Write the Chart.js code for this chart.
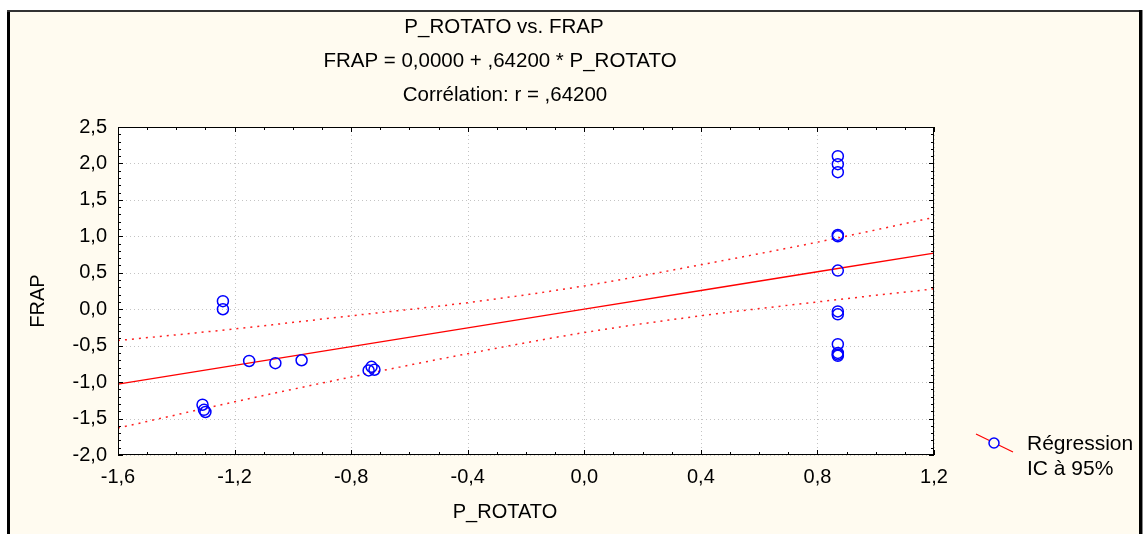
<!DOCTYPE html>
<html>
<head>
<meta charset="utf-8">
<script src="https://cdn.jsdelivr.net/npm/chart.js@4.4.0/dist/chart.umd.min.js"></script>
<style>
  html, body { margin: 0; padding: 0; background: #fff; }
  canvas { display: block; }
</style>
</head>
<body>
<canvas id="graficoNuage" width="1144" height="534"></canvas>
<script>
// ==============================
// DONNEES
// ==============================

// Observations (nuage de points)
const pRotato = [0.87, 0.87, 0.87, 0.87, 0.87, 0.87, 0.87, 0.87, 0.87, 0.87, 0.87, 0.87,
  -1.24, -1.24, -1.15, -1.06, -0.97, -0.74, -0.73, -0.72, -1.31, -1.305, -1.30];
const frap = [2.10, 1.99, 1.88, 1.02, 1.00, 0.53, -0.03, -0.07, -0.48, -0.60, -0.62, -0.64,
  0.11, 0.00, -0.71, -0.74, -0.70, -0.84, -0.79, -0.83, -1.31, -1.38, -1.41];

// Droite de régression et intervalle de confiance à 95%
const bandeX = [-1.6, -1.2, -0.8, -0.4, 0.0, 0.4, 0.8, 1.2];
const regression = [-1.027, -0.770, -0.514, -0.257, 0.0, 0.257, 0.514, 0.770];
const icHaut = [-0.43, -0.27, -0.09, 0.09, 0.32, 0.61, 0.92, 1.26];
const icBas = [-1.63, -1.27, -0.93, -0.61, -0.32, -0.09, 0.10, 0.28];

// Graduations
const xTicks = [-1.6, -1.2, -0.8, -0.4, 0.0, 0.4, 0.8, 1.2];
const xTickLabels = ["-1,6", "-1,2", "-0,8", "-0,4", "0,0", "0,4", "0,8", "1,2"];
const yTicks = [-2.0, -1.5, -1.0, -0.5, 0.0, 0.5, 1.0, 1.5, 2.0, 2.5];
const yTickLabels = ["-2,0", "-1,5", "-1,0", "-0,5", "0,0", "0,5", "1,0", "1,5", "2,0", "2,5"];

// Textes
const titres = ["P_ROTATO vs. FRAP", "FRAP = 0,0000 + ,64200 * P_ROTATO", "Corrélation: r = ,64200"];
const legende = ["Régression", "IC à 95%"];

const police = "'Liberation Sans', Arial, sans-serif";

// ==============================
// PLUGINS DE DESSIN
// ==============================

// Fond crème, cadre extérieur, zone de tracé blanche et grille pointillée
const fond = {
  id: "fond",
  beforeDraw(chart) {
    const { ctx, chartArea: a, scales } = chart;
    ctx.save();
    ctx.fillStyle = "#ffffff";
    ctx.fillRect(0, 0, chart.width, chart.height);
    ctx.fillStyle = "#fffbf0";
    ctx.fillRect(10, 11, 1130, chart.height - 11);
    // cadre
    ctx.fillStyle = "#000000";
    ctx.fillRect(7, 10, 3, chart.height - 10);
    ctx.fillStyle = "#333333";
    ctx.fillRect(7, 10, 1135, 2);
    ctx.fillStyle = "#000000";
    ctx.fillRect(1139, 10, 3, chart.height - 10);
    ctx.fillStyle = "#888888";
    ctx.fillRect(1142, 10, 1, chart.height - 10);
    // zone de tracé
    ctx.fillStyle = "#ffffff";
    ctx.fillRect(a.left, a.top, a.right - a.left, a.bottom - a.top);
    // grille
    ctx.strokeStyle = "#c4c4c4";
    ctx.lineWidth = 1;
    ctx.setLineDash([1, 3]);
    ctx.beginPath();
    xTicks.forEach(v => {
      const px = Math.round(scales.x.getPixelForValue(v)) + 0.5;
      ctx.moveTo(px, a.top);
      ctx.lineTo(px, a.bottom);
    });
    yTicks.forEach(v => {
      const py = Math.round(scales.y.getPixelForValue(v)) + 0.5;
      ctx.moveTo(a.left, py);
      ctx.lineTo(a.right, py);
    });
    ctx.stroke();
    ctx.restore();
  }
};

// Bordure de la zone de tracé et petites graduations vers l'intérieur
const marco = {
  id: "marco",
  afterDraw(chart) {
    const { ctx, chartArea: a, scales } = chart;
    ctx.save();
    ctx.strokeStyle = "#000000";
    ctx.lineWidth = 1;
    ctx.strokeRect(a.left + 0.5, a.top + 0.5, a.right - a.left - 1, a.bottom - a.top - 1);
    ctx.beginPath();
    for (let i = -16; i <= 12; i++) {
      const px = Math.round(scales.x.getPixelForValue(i / 10)) + 0.5;
      const l = i % 4 === 0 ? 5 : 3;
      ctx.moveTo(px, a.bottom); ctx.lineTo(px, a.bottom - l);
      ctx.moveTo(px, a.top); ctx.lineTo(px, a.top + l);
    }
    for (let i = -20; i <= 25; i++) {
      const py = Math.round(scales.y.getPixelForValue(i / 10)) + 0.5;
      const l = i % 5 === 0 ? 5 : 3;
      ctx.moveTo(a.left, py); ctx.lineTo(a.left + l, py);
      ctx.moveTo(a.right, py); ctx.lineTo(a.right - l, py);
    }
    ctx.stroke();
    ctx.restore();
  }
};

// Titres, titres des axes et légende
const textos = {
  id: "textos",
  afterDraw(chart) {
    const { ctx } = chart;
    ctx.save();
    ctx.fillStyle = "#000000";
    ctx.textBaseline = "middle";
    ctx.textAlign = "center";
    ctx.font = "20.5px " + police;
    ctx.fillText(titres[0], 504, 27);
    ctx.fillText(titres[1], 500, 61);
    ctx.fillText(titres[2], 505, 95);
    // titres des axes
    ctx.font = "20px " + police;
    ctx.fillText("P_ROTATO", 505, 512);
    ctx.save();
    ctx.translate(38, 301);
    ctx.rotate(-Math.PI / 2);
    ctx.fillText("FRAP", 0, 0);
    ctx.restore();
    // légende
    ctx.strokeStyle = "#ff0000";
    ctx.lineWidth = 1.2;
    ctx.beginPath();
    ctx.moveTo(976, 434);
    ctx.lineTo(1013, 452);
    ctx.stroke();
    ctx.fillStyle = "#fffbf0";
    ctx.strokeStyle = "#0000ff";
    ctx.lineWidth = 1.5;
    ctx.beginPath();
    ctx.arc(994, 443, 5, 0, Math.PI * 2);
    ctx.fill();
    ctx.stroke();
    ctx.fillStyle = "#000000";
    ctx.textAlign = "left";
    ctx.font = "21px " + police;
    ctx.fillText(legende[0], 1027, 444);
    ctx.fillText(legende[1], 1027, 469);
    ctx.restore();
  }
};

// ==============================
// GRAPHIQUE
// ==============================
const ctxNuage = document.getElementById("graficoNuage").getContext("2d");

const points = pRotato.map((x, i) => ({ x: x, y: frap[i] }));
const ligneReg = bandeX.map((x, i) => ({ x: x, y: regression[i] }));
const ligneHaut = bandeX.map((x, i) => ({ x: x, y: icHaut[i] }));
const ligneBas = bandeX.map((x, i) => ({ x: x, y: icBas[i] }));

const graficoNuage = new Chart(ctxNuage, {
  type: "scatter",
  data: {
    datasets: [
      {
        label: "Observations",
        data: points,
        showLine: false,
        pointRadius: 5.5,
        pointHoverRadius: 5.5,
        pointBorderWidth: 1.5,
        borderColor: "#0000ff",
        backgroundColor: "rgba(0,0,0,0)"
      },
      {
        label: "Régression",
        data: ligneReg,
        showLine: true,
        borderColor: "#ff0000",
        borderWidth: 1.3,
        pointRadius: 0
      },
      {
        label: "IC haut",
        data: ligneHaut,
        showLine: true,
        borderColor: "#ff2020",
        borderWidth: 1.5,
        borderDash: [2, 5],
        cubicInterpolationMode: "monotone",
        pointRadius: 0
      },
      {
        label: "IC bas",
        data: ligneBas,
        showLine: true,
        borderColor: "#ff2020",
        borderWidth: 1.5,
        borderDash: [2, 5],
        cubicInterpolationMode: "monotone",
        pointRadius: 0
      }
    ]
  },
  options: {
    responsive: false,
    animation: false,
    clip: false,
    layout: { padding: { left: 0, top: 127, right: 210, bottom: 0 } },
    plugins: {
      legend: { display: false },
      title: { display: false },
      tooltip: { enabled: false }
    },
    scales: {
      x: {
        type: "linear",
        min: -1.6,
        max: 1.2,
        afterBuildTicks: s => { s.ticks = xTicks.map(v => ({ value: v })); },
        afterFit: s => { s.height = 79; },
        grid: { display: false, drawTicks: false },
        border: { display: false },
        ticks: {
          padding: 10,
          color: "#000000",
          font: { family: police, size: 20 },
          maxRotation: 0,
          callback: (v, i) => xTickLabels[i]
        }
      },
      y: {
        type: "linear",
        min: -2.0,
        max: 2.5,
        afterBuildTicks: s => { s.ticks = yTicks.map(v => ({ value: v })); },
        afterFit: s => { s.width = 118; },
        grid: { display: false, drawTicks: false },
        border: { display: false },
        ticks: {
          padding: 11,
          color: "#000000",
          font: { family: police, size: 20 },
          callback: (v, i) => yTickLabels[i]
        }
      }
    }
  },
  plugins: [fond, marco, textos]
});
</script>
</body>
</html>
